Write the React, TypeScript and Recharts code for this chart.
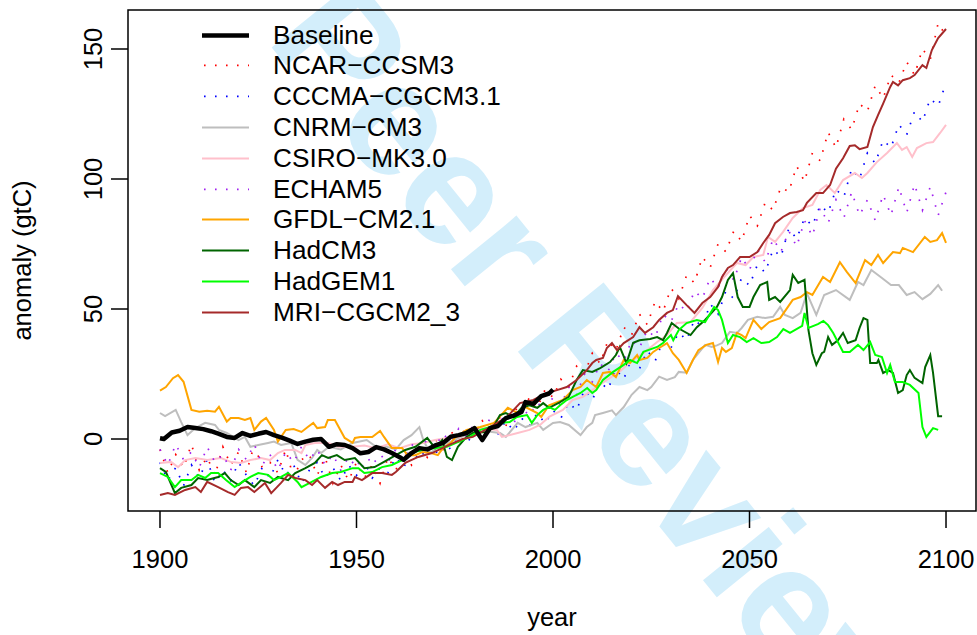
import React from "react";
import { LineChart, Line, XAxis, YAxis, ReferenceArea, Legend, Label } from "recharts";

// ---------- data (year, anomaly in gtC) ----------
const xTicks = [1900, 1950, 2000, 2050, 2100];
const yTicks = [0, 50, 100, 150];

const baseline: [number, number][] = [
  [1900, 0.3], [1901, 0], [1903, 2.5], [1905, 3.2], [1907, 4.6], [1909, 4.2], [1911, 3.8], [1913, 3.0], [1915, 2.0], [1917, 0.8],
  [1919, 0.4], [1921, 2.3], [1923, 1.2], [1925, 2.0], [1927, 2.7], [1929, 1.5], [1931, 0.5], [1933, -0.6], [1935, -1.9], [1937, -1.0],
  [1939, -0.3], [1941, 0], [1943, -3], [1945, -2], [1947, -2.3], [1949, -3.5], [1951, -5.5], [1953, -5], [1955, -3.1], [1957, -4],
  [1959, -5.4], [1961, -7], [1962, -8], [1964, -5.4], [1966, -3.5], [1968, -4], [1970, -2.5], [1972, -1.5], [1974, 0.9], [1976, 1.5],
  [1978, 2.3], [1980, 4.2], [1982, -0.4], [1984, 4.2], [1986, 5], [1988, 8], [1990, 9], [1992, 10.4], [1993, 14.2], [1995, 13.5],
  [1997, 16.5], [1999, 17.5], [2000, 19],
];

const ncar: [number, number][] = [
  [1900, -4], [1902, -13], [1904, -6], [1906, -11], [1908, -2], [1910, -12], [1912, -7], [1914, -14], [1916, -3], [1918, -10],
  [1920, -5], [1922, -13], [1924, -2], [1926, -11], [1928, -9], [1930, -13], [1932, -4], [1934, -15], [1936, -8], [1938, -6],
  [1940, -14], [1942, -7], [1944, -17], [1946, -10], [1948, -16], [1950, -9], [1952, -15], [1954, -10], [1956, -17], [1958, -7],
  [1960, -12], [1962, -5], [1964, -10], [1966, -3], [1968, -7], [1970, 0], [1972, -4], [1974, 3], [1976, -1], [1978, 5],
  [1980, 2], [1982, 7], [1984, 3], [1986, 9], [1988, 5], [1990, 12], [1992, 10], [1994, 16], [1996, 12], [1998, 19],
  [2000, 16], [2002, 23], [2004, 20], [2006, 28], [2008, 25], [2010, 33], [2012, 29], [2014, 38], [2016, 34], [2018, 43],
  [2020, 40], [2022, 48], [2024, 44], [2026, 53], [2028, 49], [2030, 58], [2032, 54], [2034, 63], [2036, 60], [2038, 70],
  [2040, 66], [2042, 75], [2044, 72], [2046, 80], [2048, 76], [2050, 86], [2052, 82], [2054, 91], [2056, 88], [2058, 97],
  [2060, 95], [2062, 105], [2064, 99], [2066, 110], [2068, 107], [2070, 118], [2072, 112], [2074, 123], [2076, 119], [2078, 129],
  [2080, 126], [2082, 136], [2084, 131], [2086, 140], [2088, 137], [2090, 145], [2092, 140], [2094, 150], [2096, 146], [2098, 160],
  [2100, 155],
];

const cccma: [number, number][] = [
  [1900, -9], [1902, -16], [1904, -11], [1906, -18], [1908, -10], [1910, -15], [1912, -8], [1914, -17], [1916, -12], [1918, -16],
  [1920, -9], [1922, -14], [1924, -18], [1926, -11], [1928, -15], [1930, -8], [1932, -14], [1934, -10], [1936, -17], [1938, -12],
  [1940, -9], [1942, -15], [1944, -11], [1946, -16], [1948, -10], [1950, -14], [1952, -9], [1954, -15], [1956, -11], [1958, -13],
  [1960, -7], [1962, -11], [1964, -5], [1966, -8], [1968, -3], [1970, -6], [1972, -1], [1974, -4], [1976, 1], [1978, -2],
  [1980, 3], [1982, 0], [1984, 4], [1986, 2], [1988, 7], [1990, 3], [1992, 8], [1994, 5], [1996, 10], [1998, 6],
  [2000, 11], [2002, 8], [2004, 14], [2006, 11], [2008, 19], [2010, 15], [2012, 22], [2014, 19], [2016, 27], [2018, 23],
  [2020, 31], [2022, 27], [2024, 34], [2026, 30], [2028, 38], [2030, 35], [2032, 41], [2034, 38], [2036, 46], [2038, 43],
  [2040, 52], [2042, 48], [2044, 57], [2046, 54], [2048, 62], [2050, 59], [2052, 67], [2054, 64], [2056, 73], [2058, 70],
  [2060, 81], [2062, 77], [2064, 85], [2066, 82], [2068, 90], [2070, 87], [2072, 96], [2074, 93], [2076, 104], [2078, 100],
  [2080, 110], [2082, 106], [2084, 115], [2086, 112], [2088, 121], [2090, 117], [2092, 126], [2094, 122], [2096, 131], [2098, 128],
  [2100, 137],
];

const cnrm: [number, number][] = [
  [1900, 10], [1901.3, 8.8], [1904, 11.2], [1905.4, 6.5], [1907, 1.5], [1909, 4.2], [1911.5, 6.2], [1914, 5.4], [1915, 3.5], [1917, 2.3],
  [1920, -0.4], [1921.6, 0.8], [1923, -3], [1925, -2.3], [1927.5, -1.5], [1929, -1], [1930.8, -2.3], [1933.4, -1.5], [1935, -8], [1937, -10],
  [1938.7, -7.3], [1940, -4.2], [1941, -5.4], [1943, -3], [1946, -4], [1949, -1.5], [1952.6, -0.4], [1955, -3], [1957.7, -3], [1960, -4],
  [1962, -0.4], [1964, 1.5], [1966, 4.6], [1967, -0.4], [1968.7, -5.4], [1971, -3], [1974, -1], [1977, 1], [1980, 2.5], [1983, 3],
  [1986.5, 2.3], [1988, 0.8], [1991, 6.2], [1993, 4.6], [1996, 6.2], [1997.5, 3.5], [2000, 6.2], [2001.8, 6.5], [2004, 5.4], [2007, 1.5],
  [2008.6, 4.6], [2010, 6.2], [2010.7, 9.2], [2012.7, 10], [2015, 11], [2016, 9.2], [2018, 12.3], [2020, 17], [2022, 20], [2024, 18.8],
  [2025, 20], [2027, 24], [2029, 22.7], [2031, 23.8], [2032, 25.8], [2034, 25.5], [2035.6, 30.4], [2037, 33], [2038.7, 36.2], [2040.4, 35.4],
  [2041.7, 36], [2043, 36.9], [2045, 41.2], [2046.8, 40.8], [2048, 42.7], [2049.6, 45.8], [2052, 47], [2054, 46.5], [2056, 47], [2057.8, 50.8],
  [2059, 47.7], [2061, 46.5], [2063, 48.5], [2064.6, 56], [2067, 47.7], [2069, 55.4], [2072, 57.3], [2075.5, 53.5], [2077.6, 60.4], [2079, 59.2],
  [2081, 65], [2083.7, 61.9], [2086, 59.2], [2088, 59.2], [2090, 55.4], [2092, 56.5], [2094, 53.8], [2096, 55.8], [2098, 59.2], [2099, 57],
];

const csiro: [number, number][] = [
  [1900, -9.2], [1902.8, -8.8], [1904.6, -10.8], [1906.4, -8.1], [1909, -7.3], [1912, -8.1], [1915.5, -7.3], [1918, -8.8], [1920.6, -9.2], [1923, -8.1],
  [1925.7, -7.3], [1928, -8.1], [1930, -5.4], [1931.8, -4.2], [1934.4, -4.2], [1936, -5.4], [1937, -2.3], [1939.4, -1.5], [1942.8, -1.5], [1945.3, -3],
  [1949, -3], [1952, -2.5], [1955, -3.5], [1958, -2], [1961, -3.5], [1964, -2], [1967, -1.5], [1970, -0.4], [1973, 0.4], [1976, 0.8],
  [1978, 2], [1981.5, 4.2], [1985.7, 3.5], [1987, 0.8], [1991, 2.3], [1994, 3.5], [1996.7, 5.4], [1999, 8.5], [2002.5, 11.2], [2005, 15],
  [2007.6, 16.2], [2010, 18.8], [2013.7, 22.7], [2017, 26], [2020, 30], [2023, 33], [2026.5, 37.3], [2029, 40], [2031.5, 44.6], [2035, 45],
  [2038, 50.4], [2040.7, 57.3], [2044, 63], [2046.8, 67.7], [2049, 66.9], [2051, 70], [2053.5, 70.8], [2054.7, 77.7], [2056.5, 75.8], [2058.5, 79.6],
  [2061, 85], [2063.6, 88.8], [2066, 90], [2068, 95.8], [2069.6, 97.7], [2071.7, 94.6], [2073.8, 99.6], [2076.8, 102.3], [2078.6, 100.4], [2080, 102.3],
  [2082.4, 106.5], [2085, 110], [2087.5, 113.8], [2088.8, 111.2], [2090, 112.3], [2091.4, 108.5], [2092.6, 111.9], [2095, 113.8], [2096.7, 114.2], [2098.5, 117.7],
  [2100, 120.8],
];

const echam: [number, number][] = [
  [1900, -4], [1902, -10], [1904, -2], [1906, -8], [1908, -5], [1910, -11], [1912, -3], [1914, -9], [1916, -6], [1918, -12],
  [1920, -4], [1922, -8], [1924, -2], [1926, -10], [1928, -6], [1930, -12], [1932, -5], [1934, -9], [1936, -3], [1938, -8],
  [1940, -4], [1942, -10], [1944, -6], [1946, -12], [1948, -7], [1950, -11], [1952, -5], [1954, -10], [1956, -6], [1958, -9],
  [1960, -4], [1962, -8], [1964, -2], [1966, -5], [1968, 0], [1970, -3], [1972, 2], [1974, -1], [1976, 4], [1978, 1],
  [1980, 6], [1982, 2], [1984, 8], [1986, 5], [1988, 10], [1990, 6], [1992, 12], [1994, 9], [1996, 14], [1998, 11],
  [2000, 16], [2002, 13], [2004, 20], [2006, 17], [2008, 25], [2010, 22], [2012, 29], [2014, 26], [2016, 33], [2018, 30],
  [2020, 38], [2022, 35], [2024, 42], [2026, 39], [2028, 48], [2030, 45], [2032, 52], [2034, 49], [2036, 57], [2038, 54],
  [2040, 62], [2042, 58], [2044, 66], [2046, 61], [2048, 70], [2050, 65], [2052, 73], [2054, 68], [2056, 77], [2058, 72],
  [2060, 80], [2062, 74], [2064, 84], [2066, 78], [2068, 89], [2070, 83], [2072, 92], [2074, 85], [2076, 95], [2078, 86],
  [2080, 92], [2082, 84], [2084, 94], [2086, 86], [2088, 97], [2090, 87], [2092, 98], [2094, 88], [2096, 97], [2098, 86],
  [2100, 95],
];

const gfdl: [number, number][] = [
  [1900, 18.6], [1901.5, 20], [1903.3, 23.4], [1904.6, 24.6], [1906, 22], [1908, 11.2], [1910, 10.5], [1912, 10.9], [1914, 10.5], [1915, 12.4],
  [1917, 6.7], [1918, 8.1], [1920, 8.1], [1921.6, 7.3], [1923, 8.1], [1924, 3.5], [1925.7, 6.7], [1927, 8.1], [1929, 3.5], [1930, -1],
  [1932, 3.5], [1934, 3.8], [1936, 2.7], [1937.6, 4.6], [1939, 6.2], [1940, 4.2], [1942, 4.6], [1942.7, 7.3], [1944.5, 7.3], [1947, 0.4],
  [1949, -1.5], [1949.6, 0.4], [1951, 0.8], [1954, 0.8], [1956, 3.1], [1957, 0.8], [1959, -3.5], [1961.6, -3.5], [1963, -6.2], [1965, -6.2],
  [1966.7, -5], [1969, -5.4], [1970.7, -6.2], [1972, -3.5], [1974, -1.5], [1975, 0.4], [1978, 3.5], [1981.5, 4.6], [1985, 6.2], [1988.5, 12],
  [1991, 10], [1993, 12.3], [1996, 10], [1997, 8.5], [1999, 13], [2002.5, 15], [2005, 18.8], [2007, 20], [2008.6, 22.7], [2011, 20],
  [2012.7, 25.4], [2014.5, 25.8], [2016, 23.8], [2018, 30.4], [2019.6, 29.2], [2021.4, 32.3], [2022, 30.4], [2024, 31.2], [2025.5, 33.5], [2027, 35],
  [2029, 36.9], [2030.5, 33], [2032, 30.4], [2034, 25.4], [2035.6, 30.4], [2037, 34.2], [2039, 36.2], [2040.7, 36.9], [2042, 29.6], [2043, 35],
  [2044, 33.5], [2045.5, 35], [2046.8, 40.8], [2048, 40], [2049, 38.8], [2051, 45.8], [2053, 42.3], [2055, 45], [2057.8, 46.5], [2061, 53.5],
  [2063, 54.6], [2064.6, 56.5], [2066, 55.4], [2068.7, 62.3], [2070.5, 60.4], [2073, 68], [2074.8, 64.2], [2077, 60], [2079.4, 68.8], [2081, 66.9],
  [2082.7, 70.8], [2084, 67.7], [2086.5, 71.9], [2088.3, 71.5], [2089, 73.5], [2091.6, 71.9], [2094.6, 77.7], [2096, 75.8], [2097.7, 76.5], [2099, 79.2],
  [2100, 75.4],
];

const hadcm3: [number, number][] = [
  [1900, -11.2], [1901.5, -12.7], [1903.8, -20.8], [1905.4, -18.8], [1908, -17.7], [1909.7, -15], [1912, -15.8], [1914.8, -14.6], [1916.5, -13.1], [1918, -15.8],
  [1920, -17.7], [1921.6, -15.8], [1924, -18.5], [1925.7, -15.8], [1928, -16.9], [1930, -14.6], [1932.6, -15.8], [1934.4, -13.1], [1937, -11.2], [1939.4, -9.2],
  [1941.2, -6.2], [1942.8, -7.3], [1945, -6.2], [1947, -8.1], [1949.6, -7.3], [1952, -11.2], [1954.6, -10.8], [1957, -8.8], [1960, -6.2], [1962.4, -4.2],
  [1965, -3], [1968, 0.4], [1970, -3.5], [1971.8, -0.4], [1973, -6.9], [1974.3, -8.1], [1975.8, -3], [1978, 0.8], [1979.6, 2.3], [1983, 2.7],
  [1984.7, 4.2], [1986.5, 9.2], [1988, 10], [1990, 8.5], [1992, 12], [1994, 13], [1996, 12], [1997.5, 13.8], [1999, 12], [2001.8, 14.2],
  [2004, 16.2], [2006, 22.7], [2007.6, 26.5], [2010, 25.8], [2012, 27.3], [2014.5, 29.6], [2016, 32.3], [2017, 35.4], [2018.7, 29.2], [2020.4, 37],
  [2022, 38], [2024.7, 38.5], [2026.5, 39.2], [2028, 38], [2029, 40.8], [2030.2, 44.6], [2032, 42.5], [2035, 40], [2036.6, 43], [2038.7, 45.8],
  [2041.7, 50.8], [2043, 54.6], [2044.5, 61.2], [2045.8, 63.8], [2047, 54.6], [2048.3, 50.8], [2050, 50.8], [2051, 54.6], [2052.7, 59.2], [2054.5, 60.4],
  [2055, 53.5], [2056.5, 54.6], [2057.8, 52.7], [2060.3, 57.3], [2061, 63.1], [2062.4, 60], [2064, 61.2], [2065, 41.9], [2066, 33], [2067, 28.5],
  [2068.4, 33], [2069, 33.5], [2070, 39.2], [2071, 36.2], [2072.5, 38], [2073.8, 40.8], [2075, 36.9], [2077, 38], [2078, 42.7], [2079, 46.5],
  [2080, 45.8], [2080.7, 29.2], [2082.4, 29.2], [2082.8, 30.4], [2084, 25.4], [2085.3, 26.5], [2086.5, 25.4], [2087.8, 17.7], [2089, 18.8], [2090, 24.6],
  [2090.8, 26.5], [2092, 23.5], [2094, 21.5], [2094.7, 27.7], [2096, 32.3], [2096.7, 25.4], [2098, 8.8], [2099, 8.8],
];

const hadgem1: [number, number][] = [
  [1900, -13.1], [1902, -14.6], [1903.8, -18.5], [1905.4, -15.8], [1908, -15.8], [1909.7, -13.8], [1911.5, -15], [1913, -13.1], [1914.8, -13.1], [1916.8, -15.8],
  [1919, -18.5], [1920.6, -16.9], [1923, -14.6], [1925, -13.1], [1927.5, -13.8], [1929, -15.8], [1930.8, -14.6], [1932.6, -13.1], [1935, -16.5], [1936, -18.5],
  [1938.6, -16.5], [1941, -14.6], [1943.8, -13.1], [1946, -12.7], [1949, -11.2], [1950.5, -11.2], [1952, -13.1], [1954, -12.7], [1956.5, -10.8], [1959, -10],
  [1961.6, -8.1], [1963.6, -5.4], [1966.7, -4.2], [1970, -3.5], [1973, -3], [1975.8, -1.2], [1978.9, 0.8], [1981.5, 3.5], [1984, 4.6], [1986.5, 6.2],
  [1989, 6.5], [1990.8, 8.5], [1993.4, 9.2], [1994.6, 6.2], [1996, 9.2], [1997.5, 11.2], [1999, 12.3], [2000.5, 11.2], [2001.8, 13], [2003.5, 15],
  [2005, 16.2], [2007, 17.7], [2008.7, 19.6], [2010, 17.7], [2011, 18.8], [2012.7, 22.7], [2015.3, 25.8], [2018, 28.5], [2019.6, 30.4], [2021.4, 29.2],
  [2023, 33.5], [2026.5, 35.4], [2028, 36.9], [2030, 40], [2030.6, 38], [2032, 41.9], [2034, 44.6], [2036.6, 45.8], [2038.7, 45], [2041, 50.8],
  [2042, 49.6], [2043, 45.8], [2044.5, 36.9], [2045.8, 40], [2047.6, 39.2], [2049.3, 37.3], [2051, 38.8], [2053, 36.9], [2055, 37.3], [2057, 39.2],
  [2058.6, 42.3], [2060.3, 40.8], [2063.4, 43.5], [2064, 48.5], [2065, 42.7], [2067.4, 44.2], [2068.8, 45.4], [2070, 43.8], [2071.3, 40.8], [2073.8, 33.5],
  [2075.5, 33.5], [2077.6, 36.2], [2079, 34.2], [2080.7, 37.3], [2082, 32.3], [2083.7, 31.5], [2085, 25.4], [2085.8, 28.5], [2087, 21.9], [2089, 21.9],
  [2090.8, 20.8], [2093, 17.7], [2094, 4.6], [2095, 0.8], [2096.7, 4.2], [2098, 3.5],
];

const mri: [number, number][] = [
  [1900, -21.5], [1902, -20.8], [1903.8, -21.5], [1906.4, -19.6], [1909, -18.5], [1910.4, -20.4], [1912, -16.5], [1914.8, -18.5], [1917.3, -20.4], [1919, -21.5],
  [1920.6, -18.8], [1922.4, -18.5], [1924, -20.4], [1926.7, -16.9], [1928.3, -20.8], [1930.8, -16.9], [1932.6, -13.8], [1934.4, -15], [1937, -15.8], [1938.7, -17.7],
  [1940, -15.8], [1942, -18.8], [1943.8, -16.5], [1945.3, -17.7], [1947, -16.5], [1949, -16.5], [1949.6, -14.6], [1951.4, -15.8], [1954, -13.1], [1956.5, -13.1],
  [1959, -13.8], [1960, -12.7], [1962.4, -9.2], [1965.7, -6.9], [1969.2, -5.4], [1972.5, -3], [1974, -2], [1977, 0], [1979.6, 0.8], [1984, 4.6],
  [1988.3, 8.5], [1991.6, 13.8], [1995, 15], [1998.5, 17.7], [2001, 18.8], [2003.5, 20], [2006, 22.7], [2008.6, 26.5], [2010, 29.2], [2011, 30.4],
  [2012.7, 31.2], [2013.7, 35], [2015, 36.9], [2016.3, 34.2], [2018, 36.9], [2020.4, 39.2], [2022, 43], [2023.4, 40.8], [2025.5, 43], [2027, 45.8],
  [2029, 48.5], [2030.5, 49.6], [2031.8, 55], [2034, 51.5], [2036, 48.5], [2038, 52.3], [2040, 54.6], [2042, 58.5], [2043, 62.3], [2044.5, 65.8],
  [2045.8, 66.9], [2047.6, 70], [2050, 70], [2052, 71.9], [2053.5, 75.4], [2055, 78.5], [2056.5, 83], [2058.5, 85.4], [2060.3, 86.9], [2062, 87.3],
  [2063.6, 88], [2064.6, 90.8], [2067, 94.6], [2068.7, 94.6], [2070.5, 97.7], [2072, 104], [2073.8, 108], [2075.5, 112.7], [2076.8, 113], [2078, 111.5],
  [2080, 112.3], [2081.4, 120], [2082.7, 124.6], [2084, 129], [2085.8, 135.4], [2086.5, 137.3], [2087.8, 136], [2089, 138], [2090.8, 138.8], [2092, 140],
  [2094, 143.8], [2095, 142.7], [2096.4, 149.6], [2098, 154.2], [2100, 157.7],
];

// ---------- styling ----------
const FONT = "'Liberation Sans', Arial, Helvetica, sans-serif";
const FS = 25.5;
const LEGEND_FS = 26.2;
const X_DOMAIN: [number, number] = [1891.86, 2107.63];
const Y_DOMAIN: [number, number] = [-27.69, 165];
const DOT = "1.6 9.4";

type Series = { key: string; name: string; pts: [number, number][]; color: string; width: number; dash?: string };

const SERIES: Series[] = [
  { key: "ncar", name: "NCAR\u2212CCSM3", pts: ncar, color: "#FF0000", width: 1.7, dash: DOT },
  { key: "cccma", name: "CCCMA\u2212CGCM3.1", pts: cccma, color: "#0000FF", width: 1.7, dash: DOT },
  { key: "cnrm", name: "CNRM\u2212CM3", pts: cnrm, color: "#BEBEBE", width: 2 },
  { key: "csiro", name: "CSIRO\u2212MK3.0", pts: csiro, color: "#FFC0CB", width: 2 },
  { key: "echam", name: "ECHAM5", pts: echam, color: "#A020F0", width: 1.7, dash: DOT },
  { key: "gfdl", name: "GFDL\u2212CM2.1", pts: gfdl, color: "#FFA500", width: 2 },
  { key: "hadcm3", name: "HadCM3", pts: hadcm3, color: "#006400", width: 2 },
  { key: "hadgem1", name: "HadGEM1", pts: hadgem1, color: "#00FF00", width: 2 },
  { key: "mri", name: "MRI\u2212CGCM2_3", pts: mri, color: "#A52A2A", width: 2 },
];
const BASE: Series = { key: "baseline", name: "Baseline", pts: baseline, color: "#000000", width: 4.5 };
const LEGEND_ITEMS: Series[] = [BASE, ...SERIES];

const toData = (pts: [number, number][]) => pts.map(([year, v]) => ({ year, v }));

const XTick = (props: any) => (
  <text x={props.x} y={props.y} dy={38} textAnchor="middle" fontSize={FS} fontFamily={FONT} fill="#000">
    {props.payload.value}
  </text>
);

const YTick = (props: any) => (
  <text
    transform={`translate(${props.x - 7},${props.y}) rotate(-90)`}
    textAnchor="middle"
    fontSize={FS}
    fontFamily={FONT}
    fill="#000"
  >
    {props.payload.value}
  </text>
);

const renderLegend = () => (
  <div style={{ fontFamily: FONT, fontSize: LEGEND_FS, color: "#000" }}>
    {LEGEND_ITEMS.map((s) => (
      <div key={s.key} style={{ height: 30.8, display: "flex", alignItems: "center", whiteSpace: "nowrap" }}>
        <svg width={71} height={30.8} style={{ display: "block" }}>
          <line
            x1={0}
            x2={47}
            y1={15.4}
            y2={15.4}
            stroke={s.color}
            strokeWidth={s.width}
            strokeDasharray={s.dash}
            strokeDashoffset={s.dash ? -2 : 0}
          />
        </svg>
        <span style={{ lineHeight: "30.8px" }}>{s.name}</span>
      </div>
    ))}
  </div>
);

export default function App() {
  return (
    <div style={{ position: "relative", width: 977, height: 635, background: "#fff", overflow: "hidden" }}>
      <style>{`body{margin:0;}`}</style>
      <svg width={977} height={635} style={{ position: "absolute", left: 0, top: 0 }}>
        <text
          transform="translate(510,253) rotate(51)"
          textAnchor="middle"
          dy="0.35em"
          fontSize={160}
          fontWeight="bold"
          fontFamily={FONT}
          fill="#D3EEFB"
        >
          For Peer Review
        </text>
      </svg>
      <div style={{ position: "absolute", left: 0, top: 0 }}>
        <LineChart width={977} height={635} margin={{ top: 10, right: 1, bottom: 0, left: 0 }}>
          <XAxis
            type="number"
            dataKey="year"
            domain={X_DOMAIN}
            allowDataOverflow
            ticks={xTicks}
            interval={0}
            height={124}
            tickSize={17}
            axisLine={false}
            tickLine={{ stroke: "#000", strokeWidth: 1.5 }}
            tick={<XTick />}
          >
            <Label
              content={(p: any) => {
                const vb = p.viewBox;
                return (
                  <text x={vb.x + vb.width / 2} y={vb.y + 115} textAnchor="middle" fontSize={FS} fontFamily={FONT} fill="#000">
                    year
                  </text>
                );
              }}
            />
          </XAxis>
          <YAxis
            type="number"
            domain={Y_DOMAIN}
            allowDataOverflow
            ticks={yTicks}
            interval={0}
            width={128}
            tickSize={17}
            axisLine={false}
            tickLine={{ stroke: "#000", strokeWidth: 1.5 }}
            tick={<YTick />}
          >
            <Label
              content={(p: any) => {
                const vb = p.viewBox;
                return (
                  <text
                    transform={`translate(31,${vb.y + vb.height / 2}) rotate(-90)`}
                    textAnchor="middle"
                    fontSize={FS}
                    fontFamily={FONT}
                    fill="#000"
                  >
                    anomaly (gtC)
                  </text>
                );
              }}
            />
          </YAxis>
          {SERIES.map((s) => (
            <Line
              key={s.key}
              data={toData(s.pts)}
              dataKey="v"
              name={s.name}
              type="linear"
              stroke={s.color}
              strokeWidth={s.width}
              strokeDasharray={s.dash}
              dot={false}
              activeDot={false}
              isAnimationActive={false}
            />
          ))}
          <Line
            data={toData(BASE.pts)}
            dataKey="v"
            name={BASE.name}
            type="linear"
            stroke={BASE.color}
            strokeWidth={BASE.width}
            strokeLinejoin="round"
            dot={false}
            activeDot={false}
            isAnimationActive={false}
          />
          <ReferenceArea
            x1={X_DOMAIN[0]}
            x2={X_DOMAIN[1]}
            y1={Y_DOMAIN[0]}
            y2={Y_DOMAIN[1]}
            fill="none"
            stroke="#000"
            strokeWidth={1.5}
            ifOverflow="visible"
          />
          <Legend
            layout="vertical"
            align="center"
            verticalAlign="middle"
            content={renderLegend}
            wrapperStyle={{ top: 19.6, left: 202, width: 420, height: 310 }}
          />
        </LineChart>
      </div>
    </div>
  );
}
